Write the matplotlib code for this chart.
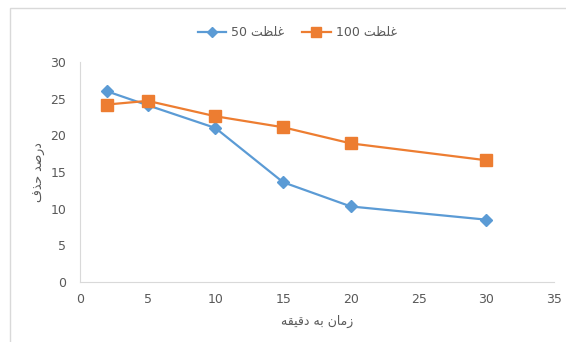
import matplotlib.pyplot as plt
from matplotlib.patches import Rectangle

# time (minutes) and removal percentage for the two concentrations
time_min = [2, 5, 10, 15, 20, 30]
removal_50 = [26.0, 24.1, 21.0, 13.6, 10.3, 8.5]
removal_100 = [24.2, 24.7, 22.6, 21.1, 18.9, 16.6]

# Arabic-script labels, pre-shaped (presentation forms, visual order)
word_conc = "\uFE96\uFEC8\uFEE0\uFECF"  # غلظت
label_50 = "50 " + word_conc
label_100 = "100 " + word_conc
x_title = "\uFEEA\uFED8\uFEF4\uFED7\uFEA9 \uFEEA\uFE91 \uFEE5\uFE8E\uFEE3\uFEAF"  # زمان به دقیقه
y_title = "\uFED1\uFEAC\uFEA3 \uFEAA\uFEBB\uFEAD\uFEA9"  # درصد حذف

blue = "#5B9BD5"
orange = "#ED7D31"
grey_txt = "#595959"
grey_line = "#D9D9D9"

fig = plt.figure(figsize=(5.66, 3.42), dpi=100)
fig.patches.append(Rectangle((10 / 566, -0.05), 1.0, 1 - 8 / 342 + 0.05,
                             transform=fig.transFigure, fill=False,
                             edgecolor=grey_line, linewidth=1.0))

ax = fig.add_axes([80 / 566, 60 / 342, 474 / 566, 220 / 342])
ax.plot(time_min, removal_50, color=blue, lw=1.6, marker="D", ms=6,
        label=label_50)
ax.plot(time_min, removal_100, color=orange, lw=1.6, marker="s", ms=8,
        label=label_100)

ax.set_xlim(0, 35)
ax.set_ylim(0, 30)
ax.set_xticks(range(0, 36, 5))
ax.set_yticks(range(0, 31, 5))
for side in ("top", "right"):
    ax.spines[side].set_visible(False)
for side in ("left", "bottom"):
    ax.spines[side].set_color(grey_line)
ax.tick_params(length=0, colors=grey_txt, labelsize=9)
ax.tick_params(axis="x", pad=8)
ax.tick_params(axis="y", pad=10)

ax.set_xlabel(x_title, color=grey_txt, fontsize=9, labelpad=6)
ax.set_ylabel(y_title, color=grey_txt, fontsize=9, labelpad=3)

leg = fig.legend(loc="center", bbox_to_anchor=(0.525, 0.905), ncol=2,
                 frameon=False, fontsize=9, labelcolor=grey_txt,
                 handlelength=2.3, columnspacing=1.4, handletextpad=0.4,
                 markerscale=0.85)

fig.savefig("out.png", dpi=100)
